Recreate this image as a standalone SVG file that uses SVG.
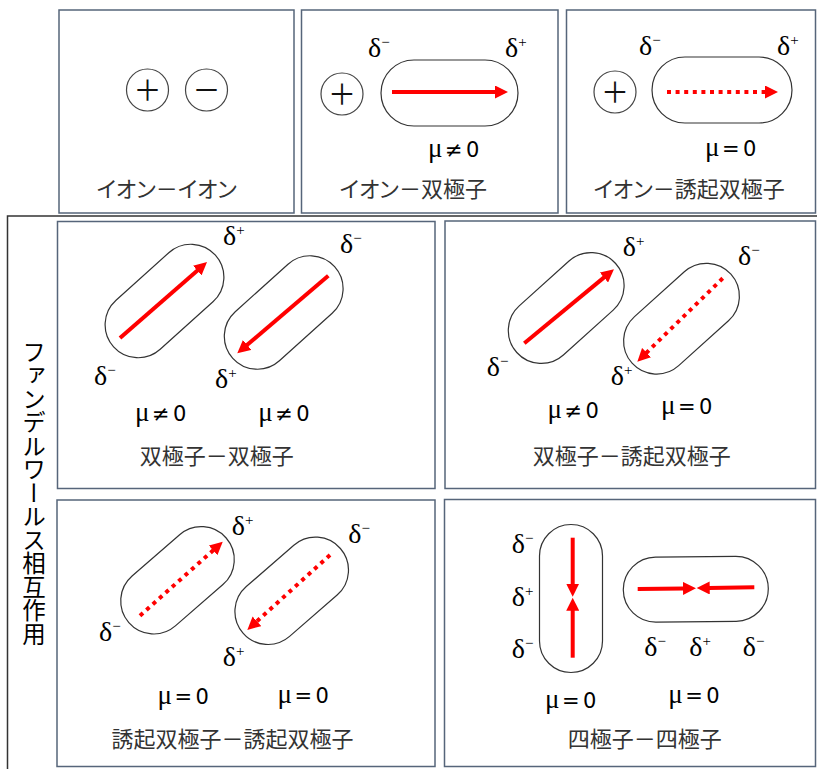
<svg xmlns="http://www.w3.org/2000/svg" width="817" height="769" viewBox="0 0 817 769">
<style>
.panel{fill:#fff;stroke:#56657a;stroke-width:1.5}
.frame{fill:none;stroke:#333;stroke-width:1.5}
.cap{fill:none;stroke:#333;stroke-width:1.2}
.ion{fill:#fff;stroke:#444;stroke-width:1.2}
.sign{font-family:"Noto Sans CJK JP",sans-serif;font-size:28px;fill:#111;text-anchor:middle}
.arrow{stroke:#f00;stroke-width:4;fill:none;marker-end:url(#ah)}
.dot{stroke-dasharray:4 4.6}
.d{font-family:"Liberation Serif",serif;font-size:28px;fill:#000}
.sup{font-size:15px}
.mu{font-family:"DejaVu Sans",sans-serif;font-size:21px;fill:#000}
.mu .g{font-family:"Liberation Serif",serif;font-size:27px}
.mu .op{font-size:21px}
.lbl{font-family:"Noto Sans CJK JP",sans-serif;font-size:22px;fill:#333;text-anchor:middle}
.kana{font-feature-settings:"palt"}
.vt{font-family:"Noto Sans CJK JP",sans-serif;font-size:23.5px;fill:#000;writing-mode:vertical-rl}
</style>
<defs>
<marker id="ah" markerUnits="userSpaceOnUse" markerWidth="14" markerHeight="13" refX="1" refY="6.5" orient="auto"><path d="M0,0 L13,6.5 L0,13 z" fill="#f00"/></marker>
</defs>
<rect width="817" height="769" fill="#fff"/>
<path class="frame" d="M817,216 H7.5 V769"/>
<text class="vt" x="34" y="340">ファンデルワールス相互作用</text>

<g id="ion-ion">
<rect class="panel" x="59" y="10" width="235" height="203"/>
<circle class="ion" cx="147.5" cy="90" r="21"/>
<text class="sign" x="147.5" y="100.5">＋</text>
<circle class="ion" cx="206.5" cy="90" r="21"/>
<text class="sign" x="206.5" y="100.5">－</text>
<text class="lbl" x="166.7" y="197"><tspan class="kana">イオン</tspan>－<tspan class="kana">イオン</tspan></text>
</g>

<g id="ion-dipole">
<rect class="panel" x="301.5" y="10" width="256.5" height="203"/>
<circle class="ion" cx="342" cy="94" r="21"/>
<text class="sign" x="342" y="104.5">＋</text>
<rect class="cap" x="381" y="60" width="137" height="66" rx="33"/>
<text class="d" x="368" y="57">δ<tspan class="sup" dy="-10">−</tspan></text>
<text class="d" x="505" y="57">δ<tspan class="sup" dy="-10">+</tspan></text>
<text class="mu" y="156.5"><tspan class="g" x="428">μ</tspan> <tspan class="op" x="445">≠</tspan> <tspan x="466">0</tspan></text>
<text class="lbl" x="413.3" y="197"><tspan class="kana">イオン</tspan>－双極子</text>
</g>

<g id="ion-induced">
<rect class="panel" x="566.5" y="10" width="249" height="203"/>
<circle class="ion" cx="615" cy="92" r="21"/>
<text class="sign" x="615" y="102.5">＋</text>
<rect class="cap" x="652" y="57" width="140" height="66" rx="33"/>
<text class="d" x="639" y="55">δ<tspan class="sup" dy="-10">−</tspan></text>
<text class="d" x="777" y="55">δ<tspan class="sup" dy="-10">+</tspan></text>
<text class="mu" y="156"><tspan class="g" x="705">μ</tspan> <tspan class="op" x="722">=</tspan> <tspan x="743">0</tspan></text>
<text class="lbl" x="689.2" y="197"><tspan class="kana">イオン</tspan>－誘起双極子</text>
</g>

<g id="dipole-dipole">
<rect class="panel" x="57.5" y="221.5" width="377.5" height="267"/>
<rect class="cap" x="-68.5" y="-33" width="137" height="66" rx="33" transform="translate(164.5,301) rotate(-42)"/>
<rect class="cap" x="-68.5" y="-33" width="137" height="66" rx="33" transform="translate(283.7,312.5) rotate(-42)"/>
<text class="d" x="223" y="245">δ<tspan class="sup" dy="-10">+</tspan></text>
<text class="d" x="340" y="253">δ<tspan class="sup" dy="-10">−</tspan></text>
<text class="d" x="94" y="385">δ<tspan class="sup" dy="-10">−</tspan></text>
<text class="d" x="215" y="388">δ<tspan class="sup" dy="-10">+</tspan></text>
<text class="mu" y="421"><tspan class="g" x="135">μ</tspan> <tspan class="op" x="152">≠</tspan> <tspan x="173">0</tspan></text>
<text class="mu" y="421"><tspan class="g" x="258.3">μ</tspan> <tspan class="op" x="275.3">≠</tspan> <tspan x="296.3">0</tspan></text>
<text class="lbl" x="216.7" y="464">双極子－双極子</text>
</g>

<g id="dipole-induced">
<rect class="panel" x="445" y="221" width="370.5" height="267.5"/>
<rect class="cap" x="-66.5" y="-33" width="133" height="66" rx="33" transform="translate(566.2,308) rotate(-42)"/>
<rect class="cap" x="-66.5" y="-33" width="133" height="66" rx="33" transform="translate(681.5,318.7) rotate(-42)"/>
<text class="d" x="622.7" y="256">δ<tspan class="sup" dy="-10">+</tspan></text>
<text class="d" x="738" y="265">δ<tspan class="sup" dy="-10">−</tspan></text>
<text class="d" x="486.7" y="376">δ<tspan class="sup" dy="-10">−</tspan></text>
<text class="d" x="610.7" y="385">δ<tspan class="sup" dy="-10">+</tspan></text>
<text class="mu" y="418"><tspan class="g" x="547.5">μ</tspan> <tspan class="op" x="564.5">≠</tspan> <tspan x="585.5">0</tspan></text>
<text class="mu" y="414"><tspan class="g" x="661">μ</tspan> <tspan class="op" x="678">=</tspan> <tspan x="699">0</tspan></text>
<text class="lbl" x="631.7" y="464">双極子－誘起双極子</text>
</g>

<g id="induced-induced">
<rect class="panel" x="57" y="500" width="378" height="266.5"/>
<rect class="cap" x="-64.5" y="-33" width="129" height="66" rx="33" transform="translate(177.5,580.3) rotate(-41)"/>
<rect class="cap" x="-64.5" y="-33" width="129" height="66" rx="33" transform="translate(291.7,590.8) rotate(-41)"/>
<text class="d" x="231.7" y="535">δ<tspan class="sup" dy="-10">+</tspan></text>
<text class="d" x="348.3" y="543">δ<tspan class="sup" dy="-10">−</tspan></text>
<text class="d" x="99" y="641">δ<tspan class="sup" dy="-10">−</tspan></text>
<text class="d" x="222.7" y="666">δ<tspan class="sup" dy="-10">+</tspan></text>
<text class="mu" y="704"><tspan class="g" x="157.5">μ</tspan> <tspan class="op" x="174.5">=</tspan> <tspan x="195.5">0</tspan></text>
<text class="mu" y="702.5"><tspan class="g" x="277.5">μ</tspan> <tspan class="op" x="294.5">=</tspan> <tspan x="315.5">0</tspan></text>
<text class="lbl" x="232.5" y="747">誘起双極子－誘起双極子</text>
</g>

<g id="quad-quad">
<rect class="panel" x="444.5" y="499.5" width="371" height="267"/>
<rect class="cap" x="539.5" y="524.5" width="63" height="148" rx="31.5"/>
<rect class="cap" x="-72.5" y="-32.5" width="145" height="65" rx="32.5" transform="translate(695.8,589.2) rotate(-0.6)"/>
<text class="d" x="511.7" y="553">δ<tspan class="sup" dy="-10">−</tspan></text>
<text class="d" x="511.7" y="606">δ<tspan class="sup" dy="-10">+</tspan></text>
<text class="d" x="511.7" y="658">δ<tspan class="sup" dy="-10">−</tspan></text>
<text class="d" x="644.3" y="656">δ<tspan class="sup" dy="-10">−</tspan></text>
<text class="d" x="689.3" y="656">δ<tspan class="sup" dy="-10">+</tspan></text>
<text class="d" x="742.7" y="656">δ<tspan class="sup" dy="-10">−</tspan></text>
<text class="mu" y="708.3"><tspan class="g" x="545">μ</tspan> <tspan class="op" x="562">=</tspan> <tspan x="583">0</tspan></text>
<text class="mu" y="703.3"><tspan class="g" x="668.3">μ</tspan> <tspan class="op" x="685.3">=</tspan> <tspan x="706.3">0</tspan></text>
<text class="lbl" x="644.7" y="747">四極子－四極子</text>
</g>

<g id="connectors">
<path class="arrow" d="M392,92 L496,92"/>
<path class="arrow dot" d="M667,92 L766,92"/>
<path class="arrow" d="M120,338 L198,269.9"/>
<path class="arrow" d="M328.3,275.7 L246.4,345.5"/>
<path class="arrow" d="M524.3,343.3 L604.7,276.9"/>
<path class="arrow dot" d="M722.7,278.3 L645.9,353.3"/>
<path class="arrow dot" d="M140,615.7 L213.8,549.7"/>
<path class="arrow dot" d="M330,555 L256.2,621.9"/>
<path class="arrow" d="M572.7,537.7 L572.7,584.7"/>
<path class="arrow" d="M572.7,657.7 L572.7,609.7"/>
<path class="arrow" d="M637.7,589 L684,588.4"/>
<path class="arrow" d="M754.3,587.3 L708.7,587.9"/>
</g>
</svg>
